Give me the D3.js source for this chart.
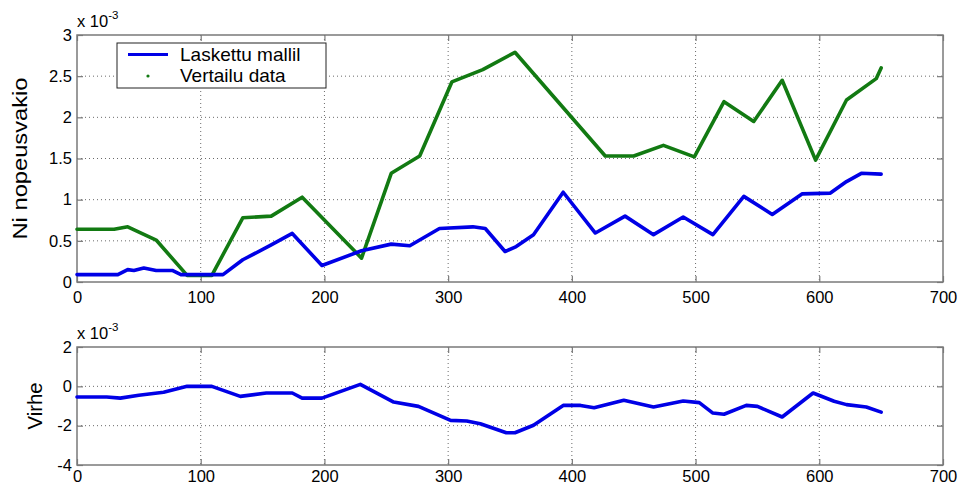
<!DOCTYPE html>
<html>
<head>
<meta charset="utf-8">
<script src="https://cdn.jsdelivr.net/npm/d3@7"></script>
<style>
  html, body { margin: 0; padding: 0; background: #fff; }
  svg { display: block; font-family: "Liberation Sans", Arial, sans-serif; }
</style>
</head>
<body>
<svg id="chart" width="963" height="488"></svg>
<script>
// Model output (Laskettu mallil), units of 1e-3
const modelX = [0, 33, 41, 46, 54, 64, 77, 84, 118, 134, 157, 174, 198, 230, 254, 269, 293, 320, 330, 346, 355, 369, 393, 419, 443, 466, 490, 514, 539, 562, 586, 609, 622, 634, 650];
const modelY = [0.09, 0.09, 0.15, 0.14, 0.17, 0.14, 0.14, 0.09, 0.09, 0.27, 0.45, 0.59, 0.20, 0.38, 0.46, 0.44, 0.65, 0.67, 0.65, 0.37, 0.43, 0.575, 1.09, 0.595, 0.80, 0.575, 0.79, 0.575, 1.04, 0.82, 1.07, 1.08, 1.22, 1.32, 1.31];

// Reference data (Vertailu data), units of 1e-3
const refX = [0, 30, 41, 64, 89, 109, 134, 157, 182, 230, 254, 277, 303, 328, 354, 427, 450, 474, 499, 523, 547, 570, 597, 622, 646, 650];
const refY = [0.64, 0.64, 0.67, 0.51, 0.08, 0.08, 0.78, 0.80, 1.03, 0.29, 1.32, 1.53, 2.43, 2.58, 2.79, 1.53, 1.53, 1.66, 1.52, 2.19, 1.95, 2.45, 1.48, 2.21, 2.47, 2.60];

// Error (Virhe), units of 1e-3
const errX = [0, 24, 35, 50, 70, 89, 109, 132, 153, 174, 182, 198, 229, 256, 276, 302, 315, 326, 347, 354, 369, 393, 407, 418, 442, 466, 490, 503, 514, 523, 541, 550, 570, 595, 612, 622, 638, 650];
const errY = [-0.54, -0.54, -0.6, -0.45, -0.3, 0, 0, -0.51, -0.34, -0.34, -0.6, -0.6, 0.1, -0.8, -1.02, -1.73, -1.76, -1.9, -2.36, -2.36, -1.98, -0.97, -0.97, -1.09, -0.71, -1.05, -0.75, -0.83, -1.36, -1.42, -0.97, -1.02, -1.56, -0.34, -0.76, -0.93, -1.05, -1.31];

const xTicks = [0, 100, 200, 300, 400, 500, 600, 700];
const topYTicks = [0, 0.5, 1, 1.5, 2, 2.5, 3];
const topYLabels = ["0", "0.5", "1", "1.5", "2", "2.5", "3"];
const botYTicks = [-4, -2, 0, 2];
const botYLabels = ["-4", "-2", "0", "2"];
const seriesNames = ["Laskettu mallil", "Vertailu data"];

const BLUE = "#0000e6";
const GREEN = "#127a12";
const FRAME = "#7a7a7a";
const TICK_FONT = 16.5;

const svg = d3.select("#chart");

function zipXY(xs, ys) { return xs.map((x, i) => [x, ys[i]]); }

function drawPanel(cfg) {
  const { left, right, top, bottom, yDomain, yTicks, yLabels, yTitle, yTitleLen, yTitleX, xPad } = cfg;
  const x = d3.scaleLinear().domain([0, 700]).range([left, right]);
  const y = d3.scaleLinear().domain(yDomain).range([bottom, top]);
  const g = svg.append("g");

  // dotted grid
  g.append("g").selectAll("line").data(xTicks.slice(1, -1)).join("line")
    .attr("x1", d => x(d)).attr("x2", d => x(d))
    .attr("y1", top).attr("y2", bottom)
    .attr("stroke", "#6a6a6a").attr("stroke-width", 1).attr("stroke-dasharray", "1,3");
  g.append("g").selectAll("line").data(yTicks.slice(1, -1)).join("line")
    .attr("x1", left).attr("x2", right)
    .attr("y1", d => y(d)).attr("y2", d => y(d))
    .attr("stroke", "#6a6a6a").attr("stroke-width", 1).attr("stroke-dasharray", "1,3");

  // axes with inward ticks on all four sides
  const tl = 6;
  g.append("g").attr("transform", `translate(0,${bottom})`)
    .call(d3.axisBottom(x).tickValues(xTicks).tickSize(-tl).tickPadding(xPad).tickFormat(d3.format("d")))
    .call(a => a.select(".domain").remove());
  g.append("g").attr("transform", `translate(0,${top})`)
    .call(d3.axisTop(x).tickValues(xTicks).tickSize(-tl).tickFormat(""))
    .call(a => a.select(".domain").remove());
  g.append("g").attr("transform", `translate(${left},0)`)
    .call(d3.axisLeft(y).tickValues(yTicks).tickSize(-tl).tickPadding(5).tickFormat((d, i) => yLabels[i]))
    .call(a => a.select(".domain").remove());
  g.append("g").attr("transform", `translate(${right},0)`)
    .call(d3.axisRight(y).tickValues(yTicks).tickSize(-tl).tickFormat(""))
    .call(a => a.select(".domain").remove());

  g.selectAll(".tick line").attr("stroke", FRAME).attr("stroke-width", 1.2);
  g.selectAll(".tick text").attr("fill", "#000").attr("font-size", TICK_FONT)
    .attr("font-family", "Liberation Sans, Arial, sans-serif");

  // frame
  g.append("rect").attr("x", left).attr("y", top)
    .attr("width", right - left).attr("height", bottom - top)
    .attr("fill", "none").attr("stroke", FRAME).attr("stroke-width", 1.5);

  // exponent label
  const ex = g.append("text").attr("x", left).attr("y", top - 8)
    .attr("font-size", TICK_FONT).attr("fill", "#000");
  ex.append("tspan").text("x 10");
  ex.append("tspan").attr("dy", -8).attr("font-size", 11.5).text("-3");

  // y title
  g.append("text")
    .attr("transform", `translate(${yTitleX},${(top + bottom) / 2}) rotate(-90)`)
    .attr("text-anchor", "middle")
    .attr("font-size", 21)
    .attr("textLength", yTitleLen).attr("lengthAdjust", "spacingAndGlyphs")
    .attr("fill", "#000")
    .text(yTitle);

  return { x, y, g };
}

const L = 77, R = 943;

// upper panel
const p1 = drawPanel({
  left: L, right: R, top: 35, bottom: 282,
  yDomain: [0, 3], yTicks: topYTicks, yLabels: topYLabels,
  yTitle: "Ni nopeusvakio", yTitleLen: 162, yTitleX: 27, xPad: 9
});
const line1 = d3.line().x(d => p1.x(d[0])).y(d => p1.y(d[1]));
p1.g.append("path").datum(zipXY(refX, refY))
  .attr("d", line1).attr("fill", "none")
  .attr("stroke", GREEN).attr("stroke-width", 3.6)
  .attr("stroke-linejoin", "round").attr("stroke-linecap", "round");
p1.g.append("path").datum(zipXY(modelX, modelY))
  .attr("d", line1).attr("fill", "none")
  .attr("stroke", BLUE).attr("stroke-width", 3.6)
  .attr("stroke-linejoin", "round").attr("stroke-linecap", "round");

// legend
const lg = p1.g.append("g");
lg.append("rect").attr("x", 117).attr("y", 43).attr("width", 209).attr("height", 45)
  .attr("fill", "#fff").attr("stroke", "#222").attr("stroke-width", 1);
lg.append("line").attr("x1", 128).attr("x2", 168).attr("y1", 54.5).attr("y2", 54.5)
  .attr("stroke", BLUE).attr("stroke-width", 3.2);
lg.append("circle").attr("cx", 148).attr("cy", 76).attr("r", 1.6).attr("fill", GREEN);
lg.selectAll("text").data(seriesNames).join("text")
  .attr("x", 180).attr("y", (d, i) => 61 + i * 21)
  .attr("font-size", 19).attr("fill", "#000")
  .text(d => d);

// lower panel
const p2 = drawPanel({
  left: L, right: R, top: 347, bottom: 465,
  yDomain: [-4, 2], yTicks: botYTicks, yLabels: botYLabels,
  yTitle: "Virhe", yTitleLen: 47, yTitleX: 42, xPad: 5
});
const line2 = d3.line().x(d => p2.x(d[0])).y(d => p2.y(d[1]));
p2.g.append("path").datum(zipXY(errX, errY))
  .attr("d", line2).attr("fill", "none")
  .attr("stroke", BLUE).attr("stroke-width", 3.6)
  .attr("stroke-linejoin", "round").attr("stroke-linecap", "round");
</script>
</body>
</html>
